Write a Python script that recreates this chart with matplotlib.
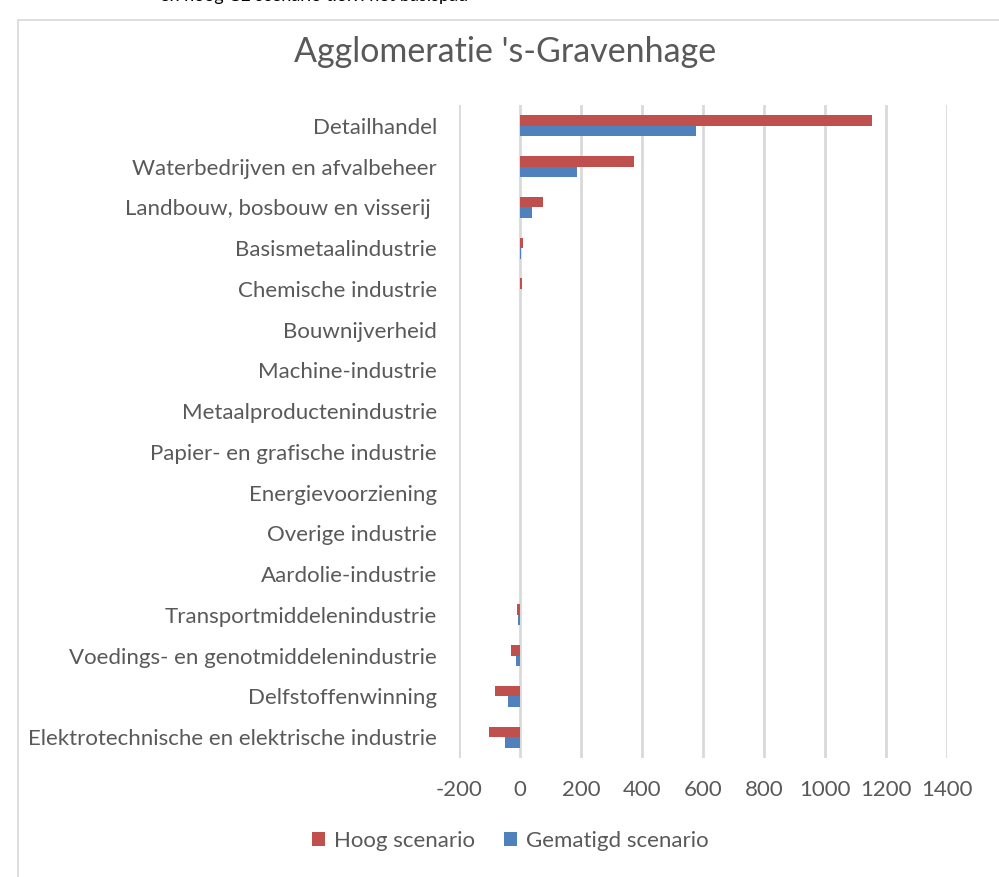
import matplotlib.pyplot as plt
from matplotlib.patches import Rectangle
import numpy as np

sectoren = [
    "Detailhandel",
    "Waterbedrijven en afvalbeheer",
    "Landbouw, bosbouw en visserij ",
    "Basismetaalindustrie",
    "Chemische industrie",
    "Bouwnijverheid",
    "Machine-industrie",
    "Metaalproductenindustrie",
    "Papier- en grafische industrie",
    "Energievoorziening",
    "Overige industrie",
    "Aardolie-industrie",
    "Transportmiddelenindustrie",
    "Voedings- en genotmiddelenindustrie",
    "Delfstoffenwinning",
    "Elektrotechnische en elektrische industrie",
]
hoog = [1154, 373, 75, 10, 6, 0.5, 0.3, 0.3, 0.2, 0.2, -0.5, -0.5, -10, -30, -83, -102]
gematigd = [577, 186, 39, 2, 1, 0.2, 0.1, 0.1, 0.1, 0.1, -0.3, -0.3, -5, -13, -40, -50]

rood = "#C0504D"
blauw = "#4F81BD"
grijs = "#595959"

plt.rcParams["font.family"] = ["Lato", "DejaVu Sans"]
plt.rcParams["axes.unicode_minus"] = False

fig = plt.figure(figsize=(9.99, 8.77), dpi=100)
W, H = 999, 877

# kader van de grafiek (loopt door buiten beeld)
fig.patches.append(Rectangle((18 / W, -0.05), 1.1, 1 - 20 / H + 0.05,
                             transform=fig.transFigure, fill=False,
                             edgecolor="#d9d9d9", linewidth=1.2))
fig.text(160 / W, 1 + 4 / H, "en hoog CE scenario t.o.v. het basispad",
         fontsize=13, color="black", va="center", ha="left")

ax = fig.add_axes([459 / W, 1 - 757.5 / H, (947 - 459) / W, (757.5 - 105.5) / H])

y = np.arange(len(sectoren))
h = 0.26
ax.barh(y - h / 2, hoog, height=h, color=rood, label="Hoog scenario", zorder=3)
ax.barh(y + h / 2, gematigd, height=h, color=blauw, label="Gematigd scenario", zorder=3)

ax.set_xlim(-200, 1400)
ax.set_xticks(range(-200, 1401, 200))
ax.set_ylim(len(sectoren) - 0.5, -0.5)
ax.set_yticks(y)
ax.set_yticklabels(sectoren)
ax.grid(axis="x", color="#d9d9d9", linewidth=2, zorder=0)
for s in ax.spines.values():
    s.set_visible(False)
ax.tick_params(length=0, labelsize=16, colors=grijs)
ax.tick_params(axis="y", pad=16)
ax.tick_params(axis="x", pad=16)

fig.text(505 / W, 1 - 52 / H, "Agglomeratie 's-Gravenhage", fontsize=24.5,
         color=grijs, ha="center", va="center")

fig.legend(loc="center", bbox_to_anchor=(510 / W, 1 - 841 / H), ncol=2,
           frameon=False, fontsize=16, labelcolor=grijs, handlelength=0.6,
           handleheight=0.6, columnspacing=1.3, handletextpad=0.4)

fig.savefig("out.png", dpi=100)
